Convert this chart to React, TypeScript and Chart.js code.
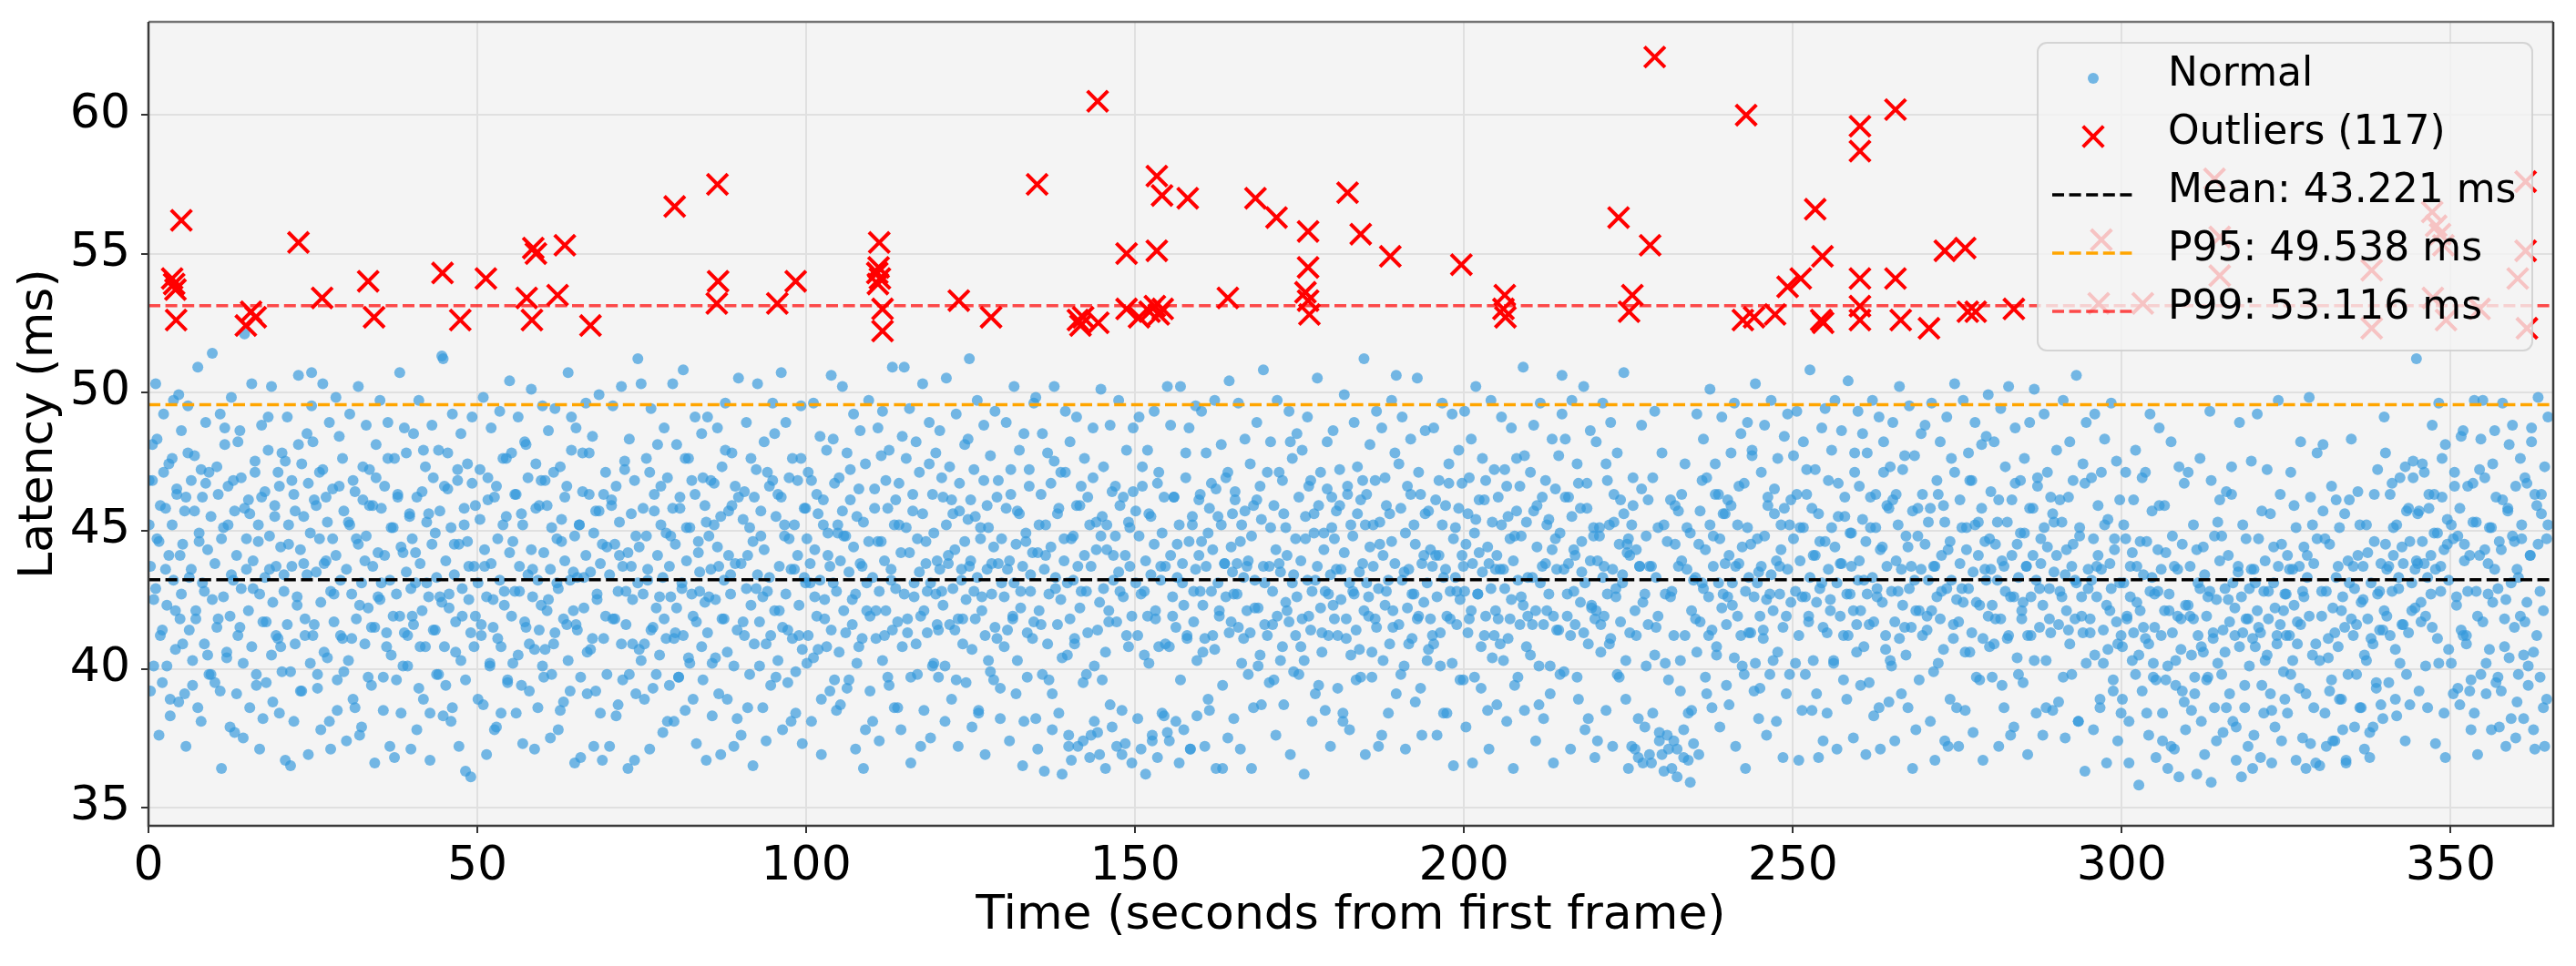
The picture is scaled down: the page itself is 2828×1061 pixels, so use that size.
import React, { useEffect, useRef } from "react";
import { Chart, registerables } from "chart.js";

Chart.register(...registerables);

const FONT = "'DejaVu Sans', 'Liberation Sans', sans-serif";

// axis ranges (matplotlib margins around the data)
const xMax = 365.6;
const yMin = 34.33;
const yMax = 63.37;
const xTickValues = [0, 50, 100, 150, 200, 250, 300, 350];
const yTickValues = [35, 40, 45, 50, 55, 60];

// reference lines
const meanLatency = 43.221;
const p95Latency = 49.538;
const p99Latency = 53.116;

// outliers (seconds, ms)
const outlierTimes = [
  5.0, 3.6, 3.9, 4.1, 4.2, 14.8, 15.6, 16.3, 22.8, 26.4, 33.4, 34.3, 44.7, 47.4, 51.3,
  57.5, 58.3, 58.5, 58.9, 63.3, 62.2, 67.2, 80.0, 86.5, 86.6, 86.4, 95.6, 98.4,
  111.1, 111.0, 110.8, 111.2, 110.9, 111.6, 111.6,
  123.2, 128.1, 135.1, 141.3, 141.7, 142.1, 144.4, 144.3, 148.7, 148.7, 150.6, 153.3,
  153.3, 154.1, 158.0, 152.2, 153.0, 153.6, 154.2, 164.1, 168.3, 171.5,
  176.3, 176.3, 175.9, 176.3, 176.5, 182.3, 184.3, 188.8, 199.6, 206.2, 206.0, 206.3,
  223.5, 225.6, 225.1, 228.3, 229.0, 242.9, 242.4,
  244.1, 247.3, 249.2, 251.2, 253.4, 254.5, 254.3, 254.6, 260.2, 260.2, 260.2, 260.2,
  260.2, 265.6, 265.6, 266.4, 270.7, 273.1, 276.2, 276.6, 277.8, 283.6,
  296.5, 296.9, 303.2, 314.1, 314.9, 314.9, 338.0, 338.0, 347.2, 347.8, 348.4, 348.9,
  347.3, 349.3, 354.4, 360.2, 361.4, 361.4, 361.6,
];
const outlierLatency = [
  56.2, 54.1, 53.9, 53.7, 52.6, 52.4, 52.9, 52.7, 55.4, 53.4, 54.0, 52.7, 54.3, 52.6, 54.1,
  53.4, 52.6, 55.2, 55.0, 55.3, 53.5, 52.4, 56.7, 57.5, 54.0, 53.2, 53.2, 54.0,
  55.4, 54.5, 54.3, 54.1, 53.9, 53.0, 52.2,
  53.3, 52.7, 57.5, 52.6, 52.4, 52.7, 52.5, 60.5, 55.0, 53.0, 52.7, 55.1,
  57.8, 57.1, 57.0, 52.9, 53.1, 52.8, 53.0, 53.4, 57.0, 56.3,
  55.8, 54.5, 53.6, 53.3, 52.8, 57.2, 55.7, 54.9, 54.6, 53.5, 53.0, 52.7,
  56.3, 53.5, 52.9, 55.3, 62.1, 60.0, 52.6,
  52.7, 52.8, 53.8, 54.1, 56.6, 54.9, 52.6, 52.5, 59.6, 58.7, 54.1, 53.1,
  52.6, 60.2, 54.1, 52.6, 52.3, 55.1, 55.2, 52.9, 52.9, 53.0,
  53.2, 55.5, 53.2, 57.7, 55.6, 54.2, 54.4, 52.3, 56.5, 56.0, 55.7, 55.3,
  53.4, 52.6, 53.0, 54.1, 55.1, 57.6, 52.3,
];

// normal frames come in pairs per timestamp: time in tenths of a second,
// latency in tenths of a ms (first and second frame of each pair)
const normalTimeTenths = [
  1, 3, 6, 8, 11, 13, 16, 18, 21, 23, 26, 28, 31, 33, 36, 38, 41, 43, 46, 48,
  50, 52, 55, 57, 60, 62, 65, 67, 70, 72, 75, 77, 80, 82, 85, 87, 90, 92, 95, 97,
  101, 104, 106, 109, 111, 114, 116, 119, 121, 124, 126, 129, 131, 134, 136, 139, 141, 144, 146, 149,
  152, 154, 157, 159, 162, 164, 167, 169, 172, 174, 177, 179, 182, 184, 187, 189, 192, 194, 197, 199,
  201, 203, 206, 208, 211, 213, 216, 218, 221, 223, 226, 228, 231, 233, 236, 238, 241, 243, 246, 248,
  250, 252, 255, 257, 260, 262, 265, 267, 270, 272, 275, 277, 280, 282, 285, 287, 290, 292, 295, 297,
  301, 304, 306, 309, 311, 314, 316, 319, 321, 324, 326, 329, 331, 334, 336, 339, 341, 344, 346, 349,
  352, 354, 357, 359, 362, 364, 367, 369, 372, 374, 377, 379, 382, 384, 387, 389, 392, 394, 397, 399,
  401, 403, 406, 408, 411, 413, 416, 418, 421, 423, 426, 428, 431, 433, 436, 438, 441, 443, 446, 448,
  450, 452, 455, 457, 460, 462, 465, 467, 470, 472, 475, 477, 480, 482, 485, 487, 490, 492, 495, 497,
  501, 504, 506, 509, 511, 514, 516, 519, 521, 524, 526, 529, 531, 534, 536, 539, 541, 544, 546, 549,
  552, 554, 557, 559, 562, 564, 567, 569, 572, 574, 577, 579, 582, 584, 587, 589, 592, 594, 597, 599,
  601, 603, 606, 608, 611, 613, 616, 618, 621, 623, 626, 628, 631, 633, 636, 638, 641, 643, 646, 648,
  650, 652, 655, 657, 660, 662, 665, 667, 670, 672, 675, 677, 680, 682, 685, 687, 690, 692, 695, 697,
  701, 704, 706, 709, 711, 714, 716, 719, 721, 724, 726, 729, 731, 734, 736, 739, 741, 744, 746, 749,
  752, 754, 757, 759, 762, 764, 767, 769, 772, 774, 777, 779, 782, 784, 787, 789, 792, 794, 797, 799,
  801, 803, 806, 808, 811, 813, 816, 818, 821, 823, 826, 828, 831, 833, 836, 838, 841, 843, 846, 848,
  850, 852, 855, 857, 860, 862, 865, 867, 870, 872, 875, 877, 880, 882, 885, 887, 890, 892, 895, 897,
  901, 904, 906, 909, 911, 914, 916, 919, 921, 924, 926, 929, 931, 934, 936, 939, 941, 944, 946, 949,
  952, 954, 957, 959, 962, 964, 967, 969, 972, 974, 977, 979, 982, 984, 987, 989, 992, 994, 997, 999,
  1001, 1003, 1006, 1008, 1011, 1013, 1016, 1018, 1021, 1023, 1026, 1028, 1031, 1033, 1036, 1038, 1041, 1043, 1046, 1048,
  1050, 1052, 1055, 1057, 1060, 1062, 1065, 1067, 1070, 1072, 1075, 1077, 1080, 1082, 1085, 1087, 1090, 1092, 1095, 1097,
  1101, 1104, 1106, 1109, 1111, 1114, 1116, 1119, 1121, 1124, 1126, 1129, 1131, 1134, 1136, 1139, 1141, 1144, 1146, 1149,
  1152, 1154, 1157, 1159, 1162, 1164, 1167, 1169, 1172, 1174, 1177, 1179, 1182, 1184, 1187, 1189, 1192, 1194, 1197, 1199,
  1201, 1203, 1206, 1208, 1211, 1213, 1216, 1218, 1221, 1223, 1226, 1228, 1231, 1233, 1236, 1238, 1241, 1243, 1246, 1248,
  1250, 1252, 1255, 1257, 1260, 1262, 1265, 1267, 1270, 1272, 1275, 1277, 1280, 1282, 1285, 1287, 1290, 1292, 1295, 1297,
  1301, 1304, 1306, 1309, 1311, 1314, 1316, 1319, 1321, 1324, 1326, 1329, 1331, 1334, 1336, 1339, 1341, 1344, 1346, 1349,
  1352, 1354, 1357, 1359, 1362, 1364, 1367, 1369, 1372, 1374, 1377, 1379, 1382, 1384, 1387, 1389, 1392, 1394, 1397, 1399,
  1401, 1403, 1406, 1408, 1411, 1413, 1416, 1418, 1421, 1423, 1426, 1428, 1431, 1433, 1436, 1438, 1441, 1443, 1446, 1448,
  1450, 1452, 1455, 1457, 1460, 1462, 1465, 1467, 1470, 1472, 1475, 1477, 1480, 1482, 1485, 1487, 1490, 1492, 1495, 1497,
  1501, 1504, 1506, 1509, 1511, 1514, 1516, 1519, 1521, 1524, 1526, 1529, 1531, 1534, 1536, 1539, 1541, 1544, 1546, 1549,
  1552, 1554, 1557, 1559, 1562, 1564, 1567, 1569, 1572, 1574, 1577, 1579, 1582, 1584, 1587, 1589, 1592, 1594, 1597, 1599,
  1601, 1603, 1606, 1608, 1611, 1613, 1616, 1618, 1621, 1623, 1626, 1628, 1631, 1633, 1636, 1638, 1641, 1643, 1646, 1648,
  1650, 1652, 1655, 1657, 1660, 1662, 1665, 1667, 1670, 1672, 1675, 1677, 1680, 1682, 1685, 1687, 1690, 1692, 1695, 1697,
  1701, 1704, 1706, 1709, 1711, 1714, 1716, 1719, 1721, 1724, 1726, 1729, 1731, 1734, 1736, 1739, 1741, 1744, 1746, 1749,
  1752, 1754, 1757, 1759, 1762, 1764, 1767, 1769, 1772, 1774, 1777, 1779, 1782, 1784, 1787, 1789, 1792, 1794, 1797, 1799,
  1801, 1803, 1806, 1808, 1811, 1813, 1816, 1818, 1821, 1823, 1826, 1828, 1831, 1833, 1836, 1838, 1841, 1843, 1846, 1848,
  1850, 1852, 1855, 1857, 1860, 1862, 1865, 1867, 1870, 1872, 1875, 1877, 1880, 1882, 1885, 1887, 1890, 1892, 1895, 1897,
  1901, 1904, 1906, 1909, 1911, 1914, 1916, 1919, 1921, 1924, 1926, 1929, 1931, 1934, 1936, 1939, 1941, 1944, 1946, 1949,
  1952, 1954, 1957, 1959, 1962, 1964, 1967, 1969, 1972, 1974, 1977, 1979, 1982, 1984, 1987, 1989, 1992, 1994, 1997, 1999,
  2001, 2003, 2006, 2008, 2011, 2013, 2016, 2018, 2021, 2023, 2026, 2028, 2031, 2033, 2036, 2038, 2041, 2043, 2046, 2048,
  2050, 2052, 2055, 2057, 2060, 2062, 2065, 2067, 2070, 2072, 2075, 2077, 2080, 2082, 2085, 2087, 2090, 2092, 2095, 2097,
  2101, 2104, 2106, 2109, 2111, 2114, 2116, 2119, 2121, 2124, 2126, 2129, 2131, 2134, 2136, 2139, 2141, 2144, 2146, 2149,
  2152, 2154, 2157, 2159, 2162, 2164, 2167, 2169, 2172, 2174, 2177, 2179, 2182, 2184, 2187, 2189, 2192, 2194, 2197, 2199,
  2201, 2203, 2206, 2208, 2211, 2213, 2216, 2218, 2221, 2223, 2226, 2228, 2231, 2233, 2236, 2238, 2241, 2243, 2246, 2248,
  2250, 2252, 2255, 2257, 2260, 2262, 2265, 2267, 2270, 2272, 2275, 2277, 2280, 2282, 2285, 2287, 2290, 2292, 2295, 2297,
  2301, 2304, 2306, 2309, 2311, 2314, 2316, 2319, 2321, 2324, 2326, 2329, 2331, 2334, 2336, 2339, 2341, 2344, 2346, 2349,
  2352, 2354, 2357, 2359, 2362, 2364, 2367, 2369, 2372, 2374, 2377, 2379, 2382, 2384, 2387, 2389, 2392, 2394, 2397, 2399,
  2401, 2403, 2406, 2408, 2411, 2413, 2416, 2418, 2421, 2423, 2426, 2428, 2431, 2433, 2436, 2438, 2441, 2443, 2446, 2448,
  2450, 2452, 2455, 2457, 2460, 2462, 2465, 2467, 2470, 2472, 2475, 2477, 2480, 2482, 2485, 2487, 2490, 2492, 2495, 2497,
  2501, 2504, 2506, 2509, 2511, 2514, 2516, 2519, 2521, 2524, 2526, 2529, 2531, 2534, 2536, 2539, 2541, 2544, 2546, 2549,
  2552, 2554, 2557, 2559, 2562, 2564, 2567, 2569, 2572, 2574, 2577, 2579, 2582, 2584, 2587, 2589, 2592, 2594, 2597, 2599,
  2601, 2603, 2606, 2608, 2611, 2613, 2616, 2618, 2621, 2623, 2626, 2628, 2631, 2633, 2636, 2638, 2641, 2643, 2646, 2648,
  2650, 2652, 2655, 2657, 2660, 2662, 2665, 2667, 2670, 2672, 2675, 2677, 2680, 2682, 2685, 2687, 2690, 2692, 2695, 2697,
  2701, 2704, 2706, 2709, 2711, 2714, 2716, 2719, 2721, 2724, 2726, 2729, 2731, 2734, 2736, 2739, 2741, 2744, 2746, 2749,
  2752, 2754, 2757, 2759, 2762, 2764, 2767, 2769, 2772, 2774, 2777, 2779, 2782, 2784, 2787, 2789, 2792, 2794, 2797, 2799,
  2801, 2803, 2806, 2808, 2811, 2813, 2816, 2818, 2821, 2823, 2826, 2828, 2831, 2833, 2836, 2838, 2841, 2843, 2846, 2848,
  2850, 2852, 2855, 2857, 2860, 2862, 2865, 2867, 2870, 2872, 2875, 2877, 2880, 2882, 2885, 2887, 2890, 2892, 2895, 2897,
  2901, 2904, 2906, 2909, 2911, 2914, 2916, 2919, 2921, 2924, 2926, 2929, 2931, 2934, 2936, 2939, 2941, 2944, 2946, 2949,
  2952, 2954, 2957, 2959, 2962, 2964, 2967, 2969, 2972, 2974, 2977, 2979, 2982, 2984, 2987, 2989, 2992, 2994, 2997, 2999,
  3001, 3003, 3006, 3008, 3011, 3013, 3016, 3018, 3021, 3023, 3026, 3028, 3031, 3033, 3036, 3038, 3041, 3043, 3046, 3048,
  3050, 3052, 3055, 3057, 3060, 3062, 3065, 3067, 3070, 3072, 3075, 3077, 3080, 3082, 3085, 3087, 3090, 3092, 3095, 3097,
  3101, 3104, 3106, 3109, 3111, 3114, 3116, 3119, 3121, 3124, 3126, 3129, 3131, 3134, 3136, 3139, 3141, 3144, 3146, 3149,
  3152, 3154, 3157, 3159, 3162, 3164, 3167, 3169, 3172, 3174, 3177, 3179, 3182, 3184, 3187, 3189, 3192, 3194, 3197, 3199,
  3201, 3203, 3206, 3208, 3211, 3213, 3216, 3218, 3221, 3223, 3226, 3228, 3231, 3233, 3236, 3238, 3241, 3243, 3246, 3248,
  3250, 3252, 3255, 3257, 3260, 3262, 3265, 3267, 3270, 3272, 3275, 3277, 3280, 3282, 3285, 3287, 3290, 3292, 3295, 3297,
  3301, 3304, 3306, 3309, 3311, 3314, 3316, 3319, 3321, 3324, 3326, 3329, 3331, 3334, 3336, 3339, 3341, 3344, 3346, 3349,
  3352, 3354, 3357, 3359, 3362, 3364, 3367, 3369, 3372, 3374, 3377, 3379, 3382, 3384, 3387, 3389, 3392, 3394, 3397, 3399,
  3401, 3403, 3406, 3408, 3411, 3413, 3416, 3418, 3421, 3423, 3426, 3428, 3431, 3433, 3436, 3438, 3441, 3443, 3446, 3448,
  3450, 3452, 3455, 3457, 3460, 3462, 3465, 3467, 3470, 3472, 3475, 3477, 3480, 3482, 3485, 3487, 3490, 3492, 3495, 3497,
  3501, 3504, 3506, 3509, 3511, 3514, 3516, 3519, 3521, 3524, 3526, 3529, 3531, 3534, 3536, 3539, 3541, 3544, 3546, 3549,
  3552, 3554, 3557, 3559, 3562, 3564, 3567, 3569, 3572, 3574, 3577, 3579, 3582, 3584, 3587, 3589, 3592, 3594, 3597, 3599,
  3601, 3603, 3606, 3608, 3611, 3613, 3616, 3618, 3621, 3623, 3626, 3628, 3631, 3633, 3636, 3638, 3641, 3643, 3646, 3648,
];
const normalLatencyTenthsA = [
  452, 437, 468, 401, 429, 483, 446, 412, 395, 471, 458, 423, 441, 389, 476, 432, 407, 463, 499, 418,
  427, 445, 391, 462, 478, 414, 436, 403, 457, 421, 386, 449, 472, 431, 409, 467, 443, 398, 455, 425,
  438, 415, 463, 392, 447, 426, 481, 404, 452, 419, 434, 468, 377, 441, 412, 486, 429, 375, 458, 436,
  421, 456, 408, 439, 471, 394, 446, 427, 462, 382, 433, 417, 491, 448, 405, 424, 459, 437, 411, 466,
  444, 399, 428, 475, 416, 452, 365, 437, 463, 409, 426, 481, 443, 392, 455, 418, 434, 467, 402, 507,
  412, 461, 435, 398, 447, 424, 472, 406, 439, 453, 381, 428, 465, 417, 441, 396, 484, 432, 411, 457,
  436, 403, 452, 427, 389, 464, 418, 445, 376, 431, 473, 409, 448, 422, 459, 394, 437, 415, 469, 442,
  425, 458, 397, 441, 413, 476, 432, 405, 451, 368, 427, 462, 419, 444, 401, 487, 435, 412, 456, 429,
  447, 416, 431, 462, 393, 438, 421, 479, 408, 453, 426, 384, 445, 469, 414, 433, 398, 457, 424, 512,
  408, 439, 465, 422, 451, 386, 434, 417, 472, 445, 403, 429, 458, 363, 446, 425, 413, 467, 437, 419,
  431, 454, 412, 387, 443, 426, 469, 401, 438, 415, 462, 379, 447, 432, 408, 476, 423, 455, 396, 442,
  419, 446, 428, 463, 405, 437, 394, 452, 417, 481, 434, 409, 443, 426, 371, 458, 432, 414, 468, 401,
  442, 407, 459, 425, 436, 398, 471, 413, 447, 429, 385, 454, 418, 439, 466, 403, 432, 491, 421, 448,
  416, 433, 452, 397, 464, 422, 441, 406, 478, 435, 411, 449, 392, 427, 457, 438, 367, 463, 419, 444,
  434, 461, 418, 445, 383, 428, 453, 409, 437, 472, 416, 442, 398, 456, 425, 367, 448, 431, 407, 503,
  427, 409, 448, 436, 471, 414, 393, 457, 422, 441, 405, 466, 433, 418, 449, 381, 437, 426, 458, 411,
  445, 422, 397, 458, 431, 412, 476, 439, 404, 451, 427, 389, 463, 417, 442, 435, 408, 469, 424, 453,
  413, 448, 436, 402, 467, 425, 444, 391, 455, 418, 432, 479, 406, 441, 427, 459, 372, 438, 414, 462,
  438, 417, 464, 429, 386, 451, 423, 446, 409, 472, 434, 401, 457, 426, 443, 374, 428, 466, 412, 496,
  421, 455, 403, 437, 462, 415, 448, 427, 395, 469, 436, 411, 452, 384, 441, 423, 476, 407, 433, 458,
  447, 412, 431, 468, 404, 443, 419, 456, 432, 389, 461, 425, 408, 449, 437, 414, 483, 396, 428, 452,
  406, 439, 457, 421, 448, 393, 435, 472, 416, 444, 427, 402, 465, 438, 411, 453, 378, 431, 446, 419,
  433, 465, 411, 446, 428, 477, 403, 439, 421, 458, 394, 436, 414, 452, 429, 386, 467, 442, 408, 509,
  451, 418, 442, 397, 463, 426, 409, 447, 435, 372, 456, 421, 438, 413, 474, 431, 401, 449, 427, 416,
  414, 436, 469, 423, 401, 452, 438, 416, 461, 429, 443, 396, 418, 457, 432, 409, 446, 425, 483, 437,
  439, 407, 428, 455, 433, 384, 447, 421, 468, 412, 436, 451, 399, 427, 444, 415, 462, 438, 393, 431,
  426, 458, 414, 439, 472, 418, 431, 445, 403, 456, 422, 437, 381, 449, 413, 466, 428, 442, 417, 498,
  442, 421, 463, 398, 436, 452, 409, 427, 444, 391, 475, 433, 416, 458, 425, 404, 439, 471, 431, 372,
  418, 447, 432, 411, 459, 437, 422, 466, 395, 441, 428, 413, 452, 376, 469, 401, 443, 377, 424, 448,
  455, 429, 406, 443, 421, 387, 464, 432, 448, 417, 435, 459, 369, 426, 441, 412, 453, 437, 419, 464,
  431, 412, 448, 427, 473, 405, 439, 419, 456, 434, 374, 445, 421, 467, 408, 432, 449, 383, 437, 502,
  408, 441, 426, 462, 415, 433, 452, 396, 438, 423, 478, 411, 446, 371, 455, 417, 436, 403, 461, 428,
  446, 423, 411, 437, 389, 458, 428, 443, 407, 465, 431, 419, 452, 364, 438, 426, 471, 413, 444, 435,
  427, 464, 438, 415, 446, 402, 433, 457, 421, 439, 413, 448, 386, 432, 461, 422, 405, 454, 437, 416,
  412, 437, 451, 428, 396, 443, 419, 471, 435, 408, 456, 424, 441, 417, 482, 431, 399, 447, 426, 462,
  439, 418, 403, 455, 432, 466, 414, 428, 449, 391, 437, 459, 422, 406, 443, 428, 465, 412, 434, 451,
  423, 447, 436, 412, 459, 425, 381, 442, 418, 463, 431, 405, 448, 427, 414, 456, 435, 397, 468, 421,
  452, 431, 419, 444, 406, 437, 468, 415, 429, 453, 376, 441, 423, 459, 432, 409, 446, 421, 438, 506,
  416, 458, 432, 401, 449, 422, 436, 463, 411, 427, 445, 418, 471, 393, 438, 424, 456, 431, 407, 443,
  437, 409, 461, 426, 441, 413, 452, 384, 436, 419, 467, 428, 402, 447, 433, 416, 458, 425, 441, 396,
  428, 445, 413, 469, 421, 438, 397, 454, 427, 442, 408, 435, 461, 419, 444, 371, 429, 453, 412, 436,
  441, 418, 436, 452, 403, 429, 466, 411, 447, 425, 439, 394, 457, 432, 416, 448, 423, 477, 408, 433,
  405, 433, 457, 421, 444, 387, 431, 462, 416, 438, 452, 427, 401, 443, 419, 465, 436, 414, 449, 492,
  436, 462, 419, 438, 412, 455, 428, 441, 397, 467, 424, 446, 413, 431, 458, 382, 439, 422, 451, 418,
  421, 439, 448, 406, 433, 419, 474, 427, 452, 411, 436, 463, 429, 398, 445, 417, 431, 456, 403, 442,
  447, 413, 372, 459, 421, 443, 368, 437, 465, 424, 379, 448, 416, 437, 366, 469, 405, 433, 451, 374,
  369, 452, 427, 376, 396, 461, 364, 412, 445, 371, 457, 403, 439, 378, 474, 436, 367, 449, 385, 432,
  433, 406, 445, 417, 468, 429, 443, 391, 426, 452, 414, 437, 463, 408, 431, 447, 422, 456, 438, 416,
  426, 441, 459, 431, 404, 437, 419, 466, 412, 444, 398, 428, 451, 433, 413, 479, 426, 402, 447, 435,
  419, 437, 411, 448, 425, 462, 398, 434, 421, 456, 439, 406, 427, 443, 415, 458, 391, 436, 452, 424,
  447, 428, 463, 412, 439, 385, 451, 426, 472, 417, 433, 458, 403, 441, 424, 368, 446, 431, 415, 494,
  413, 436, 425, 451, 402, 444, 431, 467, 419, 438, 396, 455, 427, 412, 449, 437, 421, 478, 406, 432,
  439, 421, 454, 408, 446, 427, 395, 462, 433, 417, 451, 429, 386, 443, 424, 471, 412, 437, 458, 403,
  428, 461, 417, 439, 452, 411, 436, 423, 477, 405, 444, 429, 415, 457, 432, 378, 448, 421, 436, 463,
  445, 414, 432, 458, 421, 399, 437, 426, 463, 418, 441, 407, 453, 429, 372, 446, 432, 416, 471, 425,
  417, 438, 451, 424, 406, 443, 429, 468, 413, 435, 452, 397, 441, 423, 458, 411, 436, 484, 419, 447,
  436, 423, 409, 445, 432, 461, 418, 394, 437, 428, 453, 412, 376, 441, 426, 467, 404, 433, 449, 418,
  424, 449, 437, 412, 458, 426, 441, 403, 432, 469, 415, 438, 423, 451, 386, 444, 429, 413, 456, 435,
  441, 416, 428, 453, 397, 434, 421, 462, 409, 437, 445, 418, 431, 381, 448, 426, 413, 467, 402, 429,
  418, 432, 447, 405, 426, 441, 389, 436, 414, 452, 423, 407, 438, 429, 396, 443, 417, 374, 431, 412,
  408, 431, 447, 419, 381, 426, 442, 413, 398, 437, 405, 421, 469, 434, 411, 446, 376, 428, 457, 402,
  415, 396, 428, 459, 436, 384, 421, 442, 401, 427, 372, 413, 437, 394, 419, 473, 407, 445, 388, 423,
  423, 437, 405, 418, 391, 443, 412, 429, 381, 406, 434, 419, 397, 428, 468, 411, 386, 425, 453, 439,
  398, 414, 429, 386, 441, 417, 463, 431, 422, 379, 435, 408, 426, 413, 394, 447, 418, 401, 436, 411,
  436, 408, 421, 447, 413, 394, 428, 439, 405, 418, 456, 385, 431, 422, 409, 437, 416, 445, 399, 427,
  427, 441, 412, 398, 436, 423, 451, 409, 437, 416, 428, 444, 391, 433, 419, 462, 405, 438, 366, 447,
  403, 419, 457, 384, 428, 411, 445, 396, 422, 374, 433, 408, 451, 389, 426, 415, 367, 439, 461, 418,
  412, 429, 398, 441, 386, 424, 437, 405, 452, 418, 377, 431, 409, 446, 393, 427, 414, 438, 382, 421,
  445, 419, 437, 463, 428, 441, 407, 452, 433, 469, 416, 438, 374, 457, 413, 446, 431, 475, 422, 439,
  438, 457, 424, 446, 471, 419, 433, 458, 441, 415, 463, 436, 449, 402, 428, 476, 443, 368, 454, 432,
  452, 391, 466, 423, 448, 387, 484, 412, 445, 409, 428, 441, 396, 467, 384, 453, 419, 472, 398, 497,
  443, 402, 427, 451, 378, 474, 436, 395, 429, 446, 392, 461, 408, 425, 457, 481, 382, 448, 415, 466,
  436, 398, 419, 447, 382, 469, 424, 401, 441, 487, 378, 463, 412, 445, 397, 456, 421, 473, 389, 452,
];
const normalLatencyTenthsB = [
  468, 392, 481, 425, 503, 447, 376, 459, 414, 492, 436, 401, 474, 383, 452, 497, 421, 465, 388, 441,
  486, 409, 457, 372, 495, 433, 468, 394, 477, 418, 509, 446, 381, 462, 428, 489, 405, 471, 398, 514,
  395, 473, 418, 492, 364, 451, 487, 406, 466, 379, 498, 432, 457, 391, 482, 415, 469, 402, 521, 447,
  461, 386, 503, 429, 475, 398, 452, 371, 488, 417, 464, 395, 479, 436, 502, 388, 455, 412, 471, 384,
  408, 478, 434, 367, 491, 445, 399, 468, 381, 457, 423, 506, 392, 474, 438, 412, 485, 369, 449, 495,
  482, 416, 459, 393, 471, 378, 503, 438, 462, 404, 489, 371, 447, 427, 498, 385, 466, 412, 476, 399,
  374, 453, 492, 411, 468, 386, 447, 502, 423, 379, 461, 439, 488, 397, 472, 415, 459, 366, 481, 426,
  497, 431, 385, 466, 408, 489, 372, 451, 419, 476, 396, 463, 507, 384, 442, 413, 478, 401, 455, 371,
  419, 485, 442, 378, 497, 408, 464, 389, 473, 431, 456, 367, 488, 414, 449, 398, 479, 426, 513, 383,
  466, 394, 478, 427, 381, 492, 445, 406, 468, 372, 485, 419, 452, 396, 474, 437, 361, 491, 408, 459,
  389, 472, 416, 498, 437, 369, 461, 402, 487, 425, 378, 466, 411, 493, 384, 452, 428, 476, 395, 504,
  478, 402, 463, 384, 491, 428, 456, 373, 482, 415, 469, 392, 501, 436, 407, 474, 386, 459, 423, 495,
  397, 468, 421, 486, 375, 451, 409, 494, 431, 378, 473, 446, 388, 462, 416, 507, 392, 479, 435, 366,
  487, 414, 452, 368, 478, 433, 496, 391, 463, 407, 484, 372, 457, 425, 499, 384, 445, 411, 471, 398,
  372, 459, 495, 418, 466, 387, 441, 502, 396, 475, 428, 364, 483, 437, 409, 468, 391, 512, 444, 403,
  458, 389, 476, 432, 371, 494, 415, 463, 398, 481, 426, 452, 377, 487, 411, 469, 394, 448, 503, 381,
  413, 481, 397, 462, 429, 508, 385, 451, 476, 402, 468, 419, 491, 373, 446, 428, 485, 396, 459, 367,
  491, 426, 468, 383, 452, 404, 487, 437, 369, 473, 418, 496, 389, 457, 434, 478, 401, 466, 382, 505,
  376, 454, 412, 489, 441, 398, 476, 365, 462, 429, 503, 417, 448, 386, 482, 409, 471, 433, 394, 468,
  485, 397, 463, 421, 507, 378, 452, 489, 414, 447, 381, 476, 436, 399, 468, 412, 495, 373, 458, 431,
  402, 471, 438, 381, 496, 426, 463, 407, 484, 369, 452, 418, 479, 441, 392, 506, 431, 467, 385, 449,
  469, 387, 502, 448, 413, 478, 396, 461, 425, 492, 371, 455, 408, 486, 437, 364, 474, 421, 497, 392,
  381, 458, 421, 487, 374, 446, 493, 412, 468, 397, 479, 432, 509, 386, 461, 417, 452, 378, 484, 427,
  476, 413, 494, 366, 457, 431, 482, 398, 471, 419, 503, 385, 446, 428, 489, 375, 463, 402, 478, 439,
  397, 486, 428, 462, 381, 505, 441, 473, 389, 456, 414, 492, 372, 467, 436, 418, 481, 395, 454, 512,
  461, 379, 472, 418, 497, 385, 451, 426, 488, 369, 459, 403, 477, 438, 396, 493, 411, 468, 382, 447,
  408, 489, 436, 374, 463, 419, 502, 391, 457, 479, 428, 365, 485, 446, 397, 472, 434, 411, 496, 382,
  371, 452, 416, 485, 363, 441, 478, 396, 467, 378, 502, 429, 456, 384, 471, 362, 447, 493, 405, 376,
  482, 367, 448, 409, 491, 372, 459, 428, 374, 476, 398, 462, 368, 437, 487, 381, 453, 414, 369, 501,
  396, 473, 364, 452, 417, 488, 379, 441, 466, 372, 497, 428, 385, 462, 373, 479, 408, 451, 366, 487,
  457, 382, 491, 371, 466, 428, 362, 479, 402, 455, 376, 493, 418, 368, 471, 437, 384, 462, 409, 377,
  374, 488, 419, 462, 381, 445, 366, 502, 431, 378, 469, 412, 487, 371, 452, 428, 495, 383, 441, 463,
  493, 406, 372, 478, 449, 385, 467, 412, 497, 364, 455, 421, 481, 394, 438, 469, 375, 504, 417, 456,
  382, 461, 427, 496, 371, 452, 411, 483, 437, 398, 474, 364, 459, 422, 489, 401, 466, 387, 508, 431,
  471, 395, 482, 416, 459, 376, 497, 438, 403, 468, 387, 451, 421, 493, 369, 476, 434, 412, 485, 398,
  408, 479, 362, 447, 491, 419, 468, 381, 456, 432, 505, 394, 471, 413, 449, 385, 482, 427, 372, 462,
  486, 418, 457, 393, 472, 436, 384, 499, 411, 466, 378, 452, 428, 489, 396, 473, 407, 461, 438, 512,
  369, 463, 426, 481, 397, 452, 418, 493, 372, 445, 487, 403, 469, 428, 384, 456, 497, 415, 478, 391,
  474, 398, 491, 435, 371, 466, 409, 483, 427, 452, 388, 505, 419, 463, 376, 441, 486, 403, 457, 418,
  412, 487, 441, 376, 468, 401, 496, 433, 459, 384, 474, 418, 492, 365, 451, 428, 479, 396, 467, 437,
  493, 379, 456, 418, 483, 366, 449, 502, 427, 461, 393, 476, 412, 468, 385, 438, 497, 404, 472, 421,
  387, 462, 409, 491, 436, 472, 381, 455, 418, 487, 364, 448, 476, 397, 466, 426, 509, 385, 453, 419,
  471, 416, 488, 374, 459, 401, 496, 437, 382, 468, 421, 454, 391, 483, 366, 447, 414, 477, 398, 506,
  399, 483, 427, 462, 371, 497, 443, 416, 474, 389, 458, 435, 502, 378, 467, 409, 486, 423, 448, 368,
  482, 374, 451, 416, 496, 437, 385, 468, 409, 489, 372, 453, 426, 478, 397, 461, 434, 507, 389, 445,
  364, 441, 452, 469, 371, 412, 382, 437, 488, 366, 427, 401, 461, 369, 437, 384, 493, 415, 419, 377,
  478, 363, 402, 446, 371, 426, 428, 374, 459, 361, 437, 392, 463, 368, 412, 451, 384, 359, 421, 373,
  418, 492, 369, 457, 431, 483, 397, 469, 412, 501, 386, 448, 474, 405, 463, 379, 491, 427, 456, 394,
  461, 387, 478, 423, 496, 372, 452, 438, 485, 401, 467, 364, 489, 413, 445, 477, 392, 503, 431, 382,
  393, 471, 414, 488, 376, 459, 427, 497, 403, 465, 381, 476, 437, 452, 368, 484, 419, 492, 398, 461,
  477, 402, 493, 367, 451, 426, 482, 398, 463, 419, 508, 385, 441, 472, 391, 456, 429, 487, 374, 446,
  384, 468, 421, 479, 403, 497, 371, 455, 438, 486, 412, 462, 389, 504, 427, 449, 375, 471, 416, 493,
  466, 394, 485, 432, 369, 478, 416, 451, 497, 383, 463, 426, 491, 371, 444, 482, 407, 459, 388, 473,
  401, 489, 374, 463, 428, 502, 391, 472, 415, 448, 386, 495, 437, 364, 477, 421, 458, 396, 485, 412,
  488, 419, 453, 381, 496, 437, 367, 468, 402, 482, 428, 459, 374, 491, 443, 389, 476, 411, 503, 386,
  372, 461, 429, 497, 385, 451, 478, 406, 468, 377, 489, 424, 453, 396, 481, 367, 446, 432, 499, 408,
  464, 397, 482, 418, 453, 372, 494, 439, 386, 473, 411, 502, 426, 461, 379, 487, 445, 398, 468, 421,
  395, 476, 437, 369, 489, 412, 458, 501, 384, 466, 429, 447, 376, 492, 403, 471, 418, 462, 385, 453,
  479, 388, 461, 426, 497, 375, 443, 414, 482, 398, 468, 432, 506, 381, 451, 419, 474, 363, 489, 436,
  413, 469, 378, 492, 437, 459, 386, 471, 402, 483, 366, 454, 421, 496, 392, 447, 475, 409, 461, 384,
  389, 452, 471, 418, 366, 437, 403, 461, 479, 424, 358, 446, 392, 415, 471, 384, 409, 492, 433, 397,
  427, 368, 443, 487, 412, 374, 459, 396, 364, 421, 482, 448, 371, 403, 436, 361, 418, 392, 467, 378,
  471, 419, 385, 452, 397, 362, 431, 476, 408, 444, 369, 396, 426, 493, 359, 413, 448, 374, 402, 461,
  448, 377, 406, 464, 425, 391, 473, 381, 412, 367, 437, 489, 361, 452, 386, 418, 372, 429, 475, 364,
  376, 431, 492, 415, 368, 457, 384, 403, 472, 428, 391, 366, 444, 379, 412, 497, 463, 374, 421, 389,
  412, 384, 436, 471, 403, 459, 367, 417, 393, 482, 375, 426, 364, 441, 498, 373, 452, 386, 409, 478,
  365, 428, 481, 447, 372, 404, 392, 466, 374, 413, 461, 437, 389, 421, 378, 456, 366, 398, 431, 483,
  437, 379, 416, 464, 452, 386, 425, 371, 403, 442, 368, 411, 379, 463, 395, 472, 428, 387, 414, 491,
  478, 436, 395, 412, 467, 451, 389, 383, 429, 402, 444, 416, 473, 398, 458, 387, 421, 469, 436, 512,
  456, 392, 417, 474, 438, 401, 386, 463, 427, 488, 449, 373, 411, 496, 437, 462, 384, 481, 445, 407,
  402, 447, 471, 426, 393, 458, 414, 486, 439, 412, 466, 392, 378, 453, 497, 428, 369, 441, 483, 417,
  469, 391, 438, 407, 451, 424, 486, 462, 397, 379, 443, 496, 418, 372, 458, 404, 431, 488, 446, 375,
  388, 433, 476, 452, 405, 417, 467, 394, 441, 482, 406, 371, 459, 498, 428, 463, 386, 372, 447, 491,
];

const normalPoints = normalTimeTenths.flatMap((t, i) => {
  const pts: { x: number; y: number }[] = [];
  if (i < normalLatencyTenthsA.length) pts.push({ x: t / 10, y: normalLatencyTenthsA[i] / 10 });
  if (i < normalLatencyTenthsB.length) pts.push({ x: t / 10, y: normalLatencyTenthsB[i] / 10 });
  return pts;
});
const outlierPoints = outlierTimes.map((t, i) => ({ x: t, y: outlierLatency[i] }));
const hLine = (v: number) => [
  { x: 0, y: v },
  { x: xMax, y: v },
];

const DASH = [13, 5.6];

// plot background + matplotlib-style frame + legend box in the upper right
const framePlugin = {
  id: "mplFrame",
  beforeDraw(chart: any) {
    const { ctx, chartArea: a } = chart;
    ctx.save();
    ctx.fillStyle = "#ffffff";
    ctx.fillRect(0, 0, chart.width, chart.height);
    ctx.fillStyle = "#f4f4f4";
    ctx.fillRect(a.left, a.top, a.right - a.left, a.bottom - a.top);
    ctx.restore();
  },
  afterDatasetsDraw(chart: any) {
    const { ctx, chartArea: a } = chart;
    ctx.save();
    ctx.lineWidth = 2.5;
    ctx.strokeStyle = "#737373";
    ctx.beginPath();
    ctx.moveTo(a.left, a.top);
    ctx.lineTo(a.right, a.top);
    ctx.stroke();
    ctx.strokeStyle = "#3a3a3a";
    ctx.beginPath();
    ctx.moveTo(a.left, a.top);
    ctx.lineTo(a.left, a.bottom);
    ctx.lineTo(a.right, a.bottom);
    ctx.lineTo(a.right, a.top);
    ctx.stroke();
    ctx.restore();
  },
  afterDraw(chart: any) {
    const { ctx, chartArea: a } = chart;
    const w = 543;
    const h = 338;
    const right = a.right - 23;
    const top = a.top + 23;
    const left = right - w;
    ctx.save();
    ctx.beginPath();
    ctx.roundRect(left, top, w, h, 10);
    ctx.fillStyle = "rgba(244,244,244,0.8)";
    ctx.fill();
    ctx.lineWidth = 2;
    ctx.strokeStyle = "rgba(204,204,204,0.8)";
    ctx.stroke();

    ctx.font = `44px ${FONT}`;
    ctx.textAlign = "left";
    ctx.textBaseline = "middle";
    chart.data.datasets.forEach((ds: any, i: number) => {
      const y = top + 39 + i * 64;
      const cx = left + 61;
      if (ds.type === "line") {
        ctx.save();
        ctx.strokeStyle = ds.borderColor;
        ctx.lineWidth = ds.borderWidth;
        ctx.setLineDash(DASH);
        ctx.beginPath();
        ctx.moveTo(cx - 45, y);
        ctx.lineTo(cx + 45, y);
        ctx.stroke();
        ctx.restore();
      } else if (ds.pointStyle === "crossRot") {
        const r = 11.3;
        ctx.save();
        ctx.strokeStyle = ds.pointBorderColor;
        ctx.lineWidth = ds.pointBorderWidth;
        ctx.beginPath();
        ctx.moveTo(cx - r, y - r);
        ctx.lineTo(cx + r, y + r);
        ctx.moveTo(cx - r, y + r);
        ctx.lineTo(cx + r, y - r);
        ctx.stroke();
        ctx.restore();
      } else {
        ctx.beginPath();
        ctx.arc(cx, y, 6, 0, Math.PI * 2);
        ctx.fillStyle = ds.pointBackgroundColor;
        ctx.fill();
      }
      ctx.fillStyle = "#000";
      ctx.fillText(ds.label, left + 143, y - 3);
    });
    ctx.restore();
  },
};

export default function App() {
  const canvasRef = useRef<HTMLCanvasElement | null>(null);

  useEffect(() => {
    document.body.style.margin = "0";
    document.body.style.overflow = "hidden";
    if (!canvasRef.current) return;

    const tickFont = { family: FONT, size: 52 };
    const titleFont = { family: FONT, size: 52, lineHeight: 1.2 };

    const chart = new Chart(canvasRef.current, {
      type: "scatter",
      data: {
        datasets: [
          {
            label: "Normal",
            data: normalPoints,
            pointRadius: 6,
            pointBorderWidth: 0,
            pointBackgroundColor: "rgba(52,152,219,0.68)",
            pointBorderColor: "rgba(0,0,0,0)",
            order: 3,
          },
          {
            label: `Outliers (${outlierPoints.length})`,
            data: outlierPoints,
            pointStyle: "crossRot",
            pointRadius: 16,
            pointBorderWidth: 4,
            pointBorderColor: "#ff0000",
            pointBackgroundColor: "#ff0000",
            order: 2,
          },
          {
            type: "line",
            label: `Mean: ${meanLatency.toFixed(3)} ms`,
            data: hLine(meanLatency),
            borderColor: "#000000",
            borderWidth: 3.5,
            borderDash: DASH,
            pointRadius: 0,
            fill: false,
            order: 1,
          },
          {
            type: "line",
            label: `P95: ${p95Latency.toFixed(3)} ms`,
            data: hLine(p95Latency),
            borderColor: "#ffa500",
            borderWidth: 3.5,
            borderDash: DASH,
            pointRadius: 0,
            fill: false,
            order: 1,
          },
          {
            type: "line",
            label: `P99: ${p99Latency.toFixed(3)} ms`,
            data: hLine(p99Latency),
            borderColor: "rgba(255,0,0,0.7)",
            borderWidth: 3.5,
            borderDash: DASH,
            pointRadius: 0,
            fill: false,
            order: 1,
          },
        ] as any,
      },
      options: {
        animation: false,
        responsive: true,
        maintainAspectRatio: false,
        devicePixelRatio: 1,
        events: [],
        layout: { padding: { top: 24, right: 25, bottom: 0, left: 0 } },
        plugins: {
          legend: { display: false },
          tooltip: { enabled: false },
        },
        scales: {
          x: {
            type: "linear",
            min: 0,
            max: xMax,
            afterBuildTicks: (axis: any) => {
              axis.ticks = xTickValues.map((v) => ({ value: v }));
            },
            afterFit: (axis: any) => {
              axis.height = 154;
              axis.paddingLeft = 0;
              axis.paddingRight = 0;
            },
            border: { display: false },
            grid: {
              color: "#e0e0e0",
              lineWidth: 2,
              tickLength: 8,
              tickColor: "#333333",
              tickWidth: 2,
            },
            ticks: {
              font: tickFont,
              color: "#000",
              padding: 6,
              maxRotation: 0,
              autoSkip: false,
            },
            title: {
              display: true,
              text: "Time (seconds from first frame)",
              font: titleFont,
              color: "#000",
              padding: { top: 0, bottom: 23 },
            },
          },
          y: {
            type: "linear",
            min: yMin,
            max: yMax,
            afterBuildTicks: (axis: any) => {
              axis.ticks = yTickValues.map((v) => ({ value: v }));
            },
            afterFit: (axis: any) => {
              axis.width = 163;
              axis.paddingTop = 0;
              axis.paddingBottom = 0;
            },
            border: { display: false },
            grid: {
              color: "#e0e0e0",
              lineWidth: 2,
              tickLength: 8,
              tickColor: "#333333",
              tickWidth: 2,
            },
            ticks: {
              font: tickFont,
              color: "#000",
              padding: 12,
              autoSkip: false,
            },
            title: {
              display: true,
              text: "Latency (ms)",
              font: titleFont,
              color: "#000",
              padding: { top: 12, bottom: 0 },
            },
          },
        },
      },
      plugins: [framePlugin],
    } as any);

    return () => {
      chart.destroy();
    };
  }, []);

  return (
    <div style={{ position: "relative", width: 2828, height: 1061 }}>
      <canvas ref={canvasRef} />
    </div>
  );
}
